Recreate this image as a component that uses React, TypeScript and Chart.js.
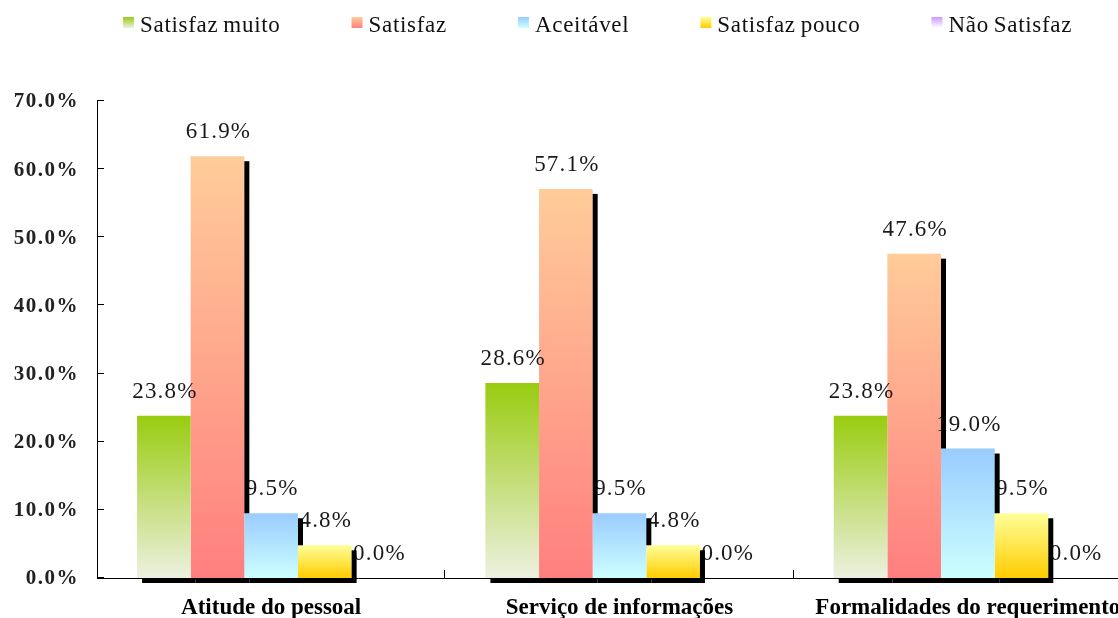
import React, { useEffect, useRef } from "react";
import { Chart, registerables } from "chart.js";

Chart.register(...registerables);

// Categories and series values (percent of respondents)
const categories = ["Atitude do pessoal", "Serviço de informações", "Formalidades do requerimento"];
const seriesNames = ["Satisfaz muito", "Satisfaz", "Aceitável", "Satisfaz pouco", "Não Satisfaz"];
const satisfazMuito = [23.8, 28.6, 23.8];
const satisfaz = [61.9, 57.1, 47.6];
const aceitavel = [9.5, 9.5, 19.0];
const satisfazPouco = [4.8, 4.8, 9.5];
const naoSatisfaz = [0.0, 0.0, 0.0];
const yTickValues = [0, 10, 20, 30, 40, 50, 60, 70];

// Vertical gradient stops per series: [top, bottom]
const seriesGradients: [string, string][] = [
  ["#99CC10", "#EDF0E0"],
  ["#FFCC99", "#FF7F7F"],
  ["#99CCFF", "#CCFFFF"],
  ["#FFFF99", "#FFCC00"],
  ["#CC99FF", "#FFFFFF"],
];

const SERIF = '"Liberation Serif", "Times New Roman", Times, serif';
const SHADOW = 5;

const seriesValues = [satisfazMuito, satisfaz, aceitavel, satisfazPouco, naoSatisfaz];

const pct = (v: number) => v.toFixed(1) + "%";

function barGradient(stops: [string, string]) {
  return (ctx: any) => {
    const chart = ctx.chart;
    const y = chart.scales && chart.scales.y;
    if (!y || ctx.type !== "data") return stops[1];
    const v = ctx.parsed ? ctx.parsed.y : 0;
    const top = y.getPixelForValue(v);
    const base = y.getPixelForValue(0);
    if (!(base > top)) return stops[1];
    const g = chart.ctx.createLinearGradient(0, top, 0, base);
    g.addColorStop(0, stops[0]);
    g.addColorStop(1, stops[1]);
    return g;
  };
}

// Legend row across the top, with gradient swatches and spaced serif text
const legendPlugin = {
  id: "topLegend",
  afterDraw(chart: any) {
    const { ctx } = chart;
    ctx.save();
    ctx.font = `23px ${SERIF}`;
    (ctx as any).letterSpacing = "0.7px";
    (ctx as any).wordSpacing = "-1.5px";
    ctx.textBaseline = "alphabetic";
    ctx.textAlign = "left";
    let x = 123;
    const swTop = 17;
    const sw = 11;
    seriesNames.forEach((name, i) => {
      const g = ctx.createLinearGradient(0, swTop, 0, swTop + sw);
      g.addColorStop(0, seriesGradients[i][0]);
      g.addColorStop(1, seriesGradients[i][1]);
      ctx.fillStyle = g;
      ctx.fillRect(x, swTop, sw, sw);
      x += sw + 6;
      ctx.fillStyle = "#111";
      ctx.fillText(name, x, 32);
      x += ctx.measureText(name).width + 71;
    });
    ctx.restore();
  },
};

// Value labels above bars, then the black offset shadows of the bars,
// plus the y tick labels and the inward tick marks
const shadowLabelPlugin = {
  id: "shadowLabels",
  afterDatasetsDraw(chart: any) {
    const { ctx } = chart;
    const yScale = chart.scales.y;
    const base = yScale.getPixelForValue(0);
    const n = chart.data.datasets.length;
    const metas = Array.from({ length: n }, (_, i) => chart.getDatasetMeta(i));

    ctx.save();
    ctx.font = `23px ${SERIF}`;
    (ctx as any).letterSpacing = "1.2px";
    ctx.fillStyle = "#1a1a1a";
    ctx.textAlign = "center";
    ctx.textBaseline = "middle";
    metas.forEach((meta: any, d: number) => {
      meta.data.forEach((bar: any, i: number) => {
        const v = chart.data.datasets[d].data[i] as number;
        ctx.fillText(pct(v), bar.x + 1, bar.y - 24);
      });
    });
    ctx.restore();

    ctx.save();
    ctx.fillStyle = "#000";
    for (let i = 0; i < categories.length; i++) {
      for (let d = 0; d < n; d++) {
        const bar: any = metas[d].data[i];
        const { x, y, width } = bar.getProps(["x", "y", "width"], true);
        if (base - y <= 0) continue;
        const left = x - width / 2;
        const right = x + width / 2;
        let stripEnd = base;
        const next: any = d + 1 < n ? metas[d + 1].data[i] : null;
        if (next && base - next.y > 0) stripEnd = Math.min(next.y, base);
        const h = stripEnd - (y + SHADOW);
        if (h > 0) ctx.fillRect(right, y + SHADOW, SHADOW, h);
        ctx.fillRect(left + SHADOW, base, width, SHADOW);
      }
    }
    ctx.restore();
  },
  afterDraw(chart: any) {
    const { ctx, chartArea } = chart;
    const yScale = chart.scales.y;
    ctx.save();
    ctx.fillStyle = "#000";
    yScale.ticks.forEach((t: any) => {
      const py = Math.round(yScale.getPixelForValue(t.value));
      ctx.fillRect(chartArea.left, py - 1, 7, 1);
    });
    const w = (chartArea.right - chartArea.left) / categories.length;
    for (let k = 1; k <= categories.length; k++) {
      const px = Math.round(chartArea.left + k * w);
      ctx.fillRect(px - 1, chartArea.bottom - 8, 1, 8);
    }

    ctx.font = `bold 21px ${SERIF}`;
    (ctx as any).letterSpacing = "1.5px";
    ctx.fillStyle = "#222";
    ctx.textAlign = "right";
    ctx.textBaseline = "middle";
    yScale.ticks.forEach((t: any) => {
      const py = yScale.getPixelForValue(t.value);
      ctx.fillText(pct(t.value), chartArea.left - 18, py + 1);
    });
    ctx.restore();
  },
};

export default function App() {
  const canvasRef = useRef<HTMLCanvasElement | null>(null);

  useEffect(() => {
    if (!canvasRef.current) return;
    const chart = new Chart(canvasRef.current, {
      type: "bar",
      data: {
        labels: categories,
        datasets: seriesNames.map((name, i) => ({
          label: name,
          data: seriesValues[i],
          backgroundColor: barGradient(seriesGradients[i]),
          borderWidth: 0,
        })),
      },
      options: {
        animation: false,
        responsive: false,
        events: [],
        layout: { padding: { top: 101, left: 0, right: 0, bottom: 0 } },
        datasets: { bar: { categoryPercentage: 0.77, barPercentage: 1 } },
        plugins: {
          legend: { display: false },
          tooltip: { enabled: false },
          title: { display: false },
        },
        scales: {
          x: {
            grid: { display: false, drawTicks: false },
            border: { display: true, color: "#000", width: 1 },
            ticks: {
              autoSkip: false,
              maxRotation: 0,
              minRotation: 0,
              padding: 16,
              color: "#000",
              font: { family: SERIF, size: 23, weight: "bold" },
            },
            afterFit: (s: any) => {
              s.height = 40;
            },
          },
          y: {
            min: 0,
            max: 70,
            afterBuildTicks: (s: any) => {
              s.ticks = yTickValues.map((v) => ({ value: v }));
            },
            grid: { display: false, drawTicks: false },
            border: { display: true, color: "#000", width: 1 },
            ticks: { display: false },
            afterFit: (s: any) => {
              s.width = 97;
            },
          },
        },
      },
      plugins: [shadowLabelPlugin, legendPlugin],
    });
    return () => chart.destroy();
  }, []);

  return (
    <div
      style={{
        position: "absolute",
        left: 0,
        top: 0,
        width: 1118,
        height: 618,
        overflow: "hidden",
        background: "#fff",
      }}
    >
      <canvas ref={canvasRef} width={1142} height={618} style={{ display: "block", width: 1142, height: 618 }} />
    </div>
  );
}
